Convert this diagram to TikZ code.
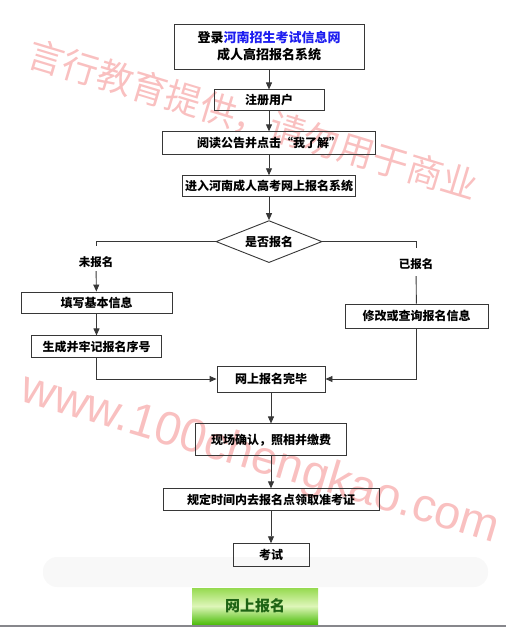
\documentclass[tikz,border=0pt]{standalone}
\usepackage{fontspec}
\setmainfont{Noto Sans CJK SC}
\setsansfont{Liberation Sans}
\usepackage{xcolor}
\usepackage{tikz}
\usetikzlibrary{shapes.geometric, arrows.meta, positioning}

\definecolor{framegray}{RGB}{55,55,55}
\definecolor{sitelink}{RGB}{30,30,240}
\definecolor{markpink}{RGB}{249,192,192}
\definecolor{btntop}{RGB}{150,218,80}
\definecolor{btnmid}{RGB}{222,246,185}
\definecolor{btnbottom}{RGB}{80,190,15}
\definecolor{btntext}{RGB}{30,100,20}
\definecolor{bandgray}{RGB}{248,248,248}
\definecolor{bottomgray}{RGB}{135,135,140}

\begin{document}
\begin{tikzpicture}[x=1pt, y=-1pt]
\tikzstyle{process} = [rectangle, minimum height=21pt, inner sep=0pt, text centered, draw=framegray, line width=0.9pt, font=\bfseries\fontsize{12}{14}\selectfont]
\tikzstyle{decision} = [diamond, aspect=2.5, minimum width=106pt, minimum height=42pt, inner sep=0pt, text centered, draw=framegray, line width=0.9pt, font=\bfseries\fontsize{12}{14}\selectfont]
\tikzstyle{branch} = [font=\bfseries\fontsize{11.5}{13}\selectfont]
\tikzstyle{btn} = [rectangle, inner sep=0pt, top color=btntop, bottom color=btnbottom, middle color=btnmid, text=btntext, font=\bfseries\fontsize{15}{17}\selectfont]
\tikzstyle{arrow} = [line width=0.9pt, draw=framegray, -{Triangle[length=7pt,width=6pt]}]
\tikzstyle{line} = [line width=0.9pt, draw=framegray]
\tikzstyle{watermark} = [text=markpink, inner sep=0pt]

\useasboundingbox (0,0) rectangle (506,627);

% background band and watermarks
\fill [bandgray, rounded corners=14pt] (43,557) rectangle (488,587);
\node (markcn) [watermark, rotate=-16.8, font=\fontsize{36}{36}\selectfont] at (253,120) {言行教育提供，请勿用于商业};
\node (markurl) [watermark, rotate=-16.7, font=\sffamily\fontsize{47}{47}\selectfont] at (260,460) {www.100chengkao.com};

% main column
\node (login) [process, minimum width=190pt, minimum height=45pt, align=center, font=\bfseries\fontsize{13}{17}\selectfont] at (269,46.5) {登录\textcolor{sitelink}{河南招生考试信息网}\\成人高招报名系统};
\node (register) [process, minimum width=110pt, below=20pt of login] {注册用户};
\node (notice) [process, minimum width=213pt, minimum height=23pt, below=20pt of register] {阅读公告并点击“我了解”};
\node (enter) [process, minimum width=173pt, below=20pt of notice] {进入河南成人高考网上报名系统};
\node (check) [decision, below=23pt of enter] {是否报名};

% two branches
\node (unreg) [branch] at (96,262) {未报名};
\node (reg) [branch] at (416,264) {已报名};
\node (fillin) [process, minimum width=151pt] at (96.5,302.5) {填写基本信息};
\node (serial) [process, minimum width=130pt, minimum height=22pt, below=22pt of fillin] {生成并牢记报名序号};
\node (modify) [process, minimum width=143pt, minimum height=24pt] at (416.5,316) {修改或查询报名信息};

% after registration
\node (done) [process, minimum width=108pt, minimum height=26pt] at (271,379) {网上报名完毕};
\node (confirm) [process, minimum width=151pt, minimum height=32pt, below=31pt of done] {现场确认，照相并缴费};
\node (ticket) [process, minimum width=216pt, minimum height=22pt, below=32pt of confirm] {规定时间内去报名点领取准考证};
\node (exam) [process, minimum width=76pt, minimum height=23pt, below=32pt of ticket] {考试};
\node (online) [btn, minimum width=126pt, minimum height=36pt] at (255,606) {网上报名};
\fill [bottomgray] (0,624.5) rectangle (506,627);

\draw [arrow] (login) -- (register);
\draw [arrow] (register) -- (notice);
\draw [arrow] (notice) -- (enter);
\draw [arrow] (enter) -- (check);
\draw [line, shorten >=7pt] (check.west) -| (unreg.north);
\draw [line, shorten >=7pt] (check.east) -| (reg.north);
\draw [arrow] (unreg) -- (fillin);
\draw [line, shorten <=3pt] (reg) -- (modify);
\draw [arrow] (fillin) -- (serial);
\draw [arrow] (serial.south) |- (done.west);
\draw [arrow] (modify.south) |- (done.east);
\draw [arrow] (done) -- (confirm);
\draw [arrow] (confirm) -- (ticket);
\draw [arrow] (ticket) -- (exam);

\end{tikzpicture}
\end{document}
